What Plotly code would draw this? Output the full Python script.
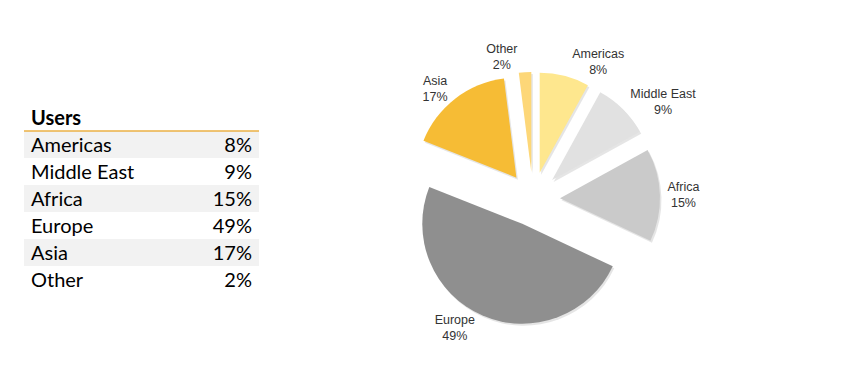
import plotly.graph_objects as go

regions = ["Americas", "Middle East", "Africa", "Europe", "Asia", "Other"]
users_pct = [8, 9, 15, 49, 17, 2]
table_title = "Users"
slice_colors = ["#FEE78E", "#E1E1E1", "#CACACA", "#8F8F8F", "#F6BC35", "#FDD778"]
slice_pull = [0.27, 0.27, 0.27, 0.27, 0.27, 0.27]
row_fill = ["#F2F2F2", "#FFFFFF", "#F2F2F2", "#FFFFFF", "#F2F2F2", "#FFFFFF"]

W, H = 867, 377

fig = go.Figure()

# ---- table drawn on a hidden cartesian grid (one row per category) ----
names = [f"<b>{table_title}</b>"] + regions
vals = [""] + [f"{v}%" for v in users_pct]
fills = ["#FFFFFF"] + row_fill
rows = list(range(len(names)))
TW = 235

fig.add_trace(go.Bar(
    y=rows, x=[TW] * len(rows), base=0, orientation="h", width=1,
    marker=dict(color=fills, line=dict(width=0)),
    hoverinfo="skip", showlegend=False,
))
fig.add_trace(go.Scatter(
    y=rows, x=[7] * len(rows), mode="text", text=names, yaxis="y2",
    textposition="middle right",
    textfont=dict(family="Lato", size=20, color="black"),
    hoverinfo="skip", showlegend=False,
))
fig.add_trace(go.Scatter(
    y=rows, x=[TW - 7] * len(rows), mode="text", text=vals, yaxis="y2",
    textposition="middle left",
    textfont=dict(family="Lato", size=20, color="black"),
    hoverinfo="skip", showlegend=False,
))
fig.add_shape(type="line", xref="x", yref="y", x0=0, x1=TW, y0=0.5, y1=0.5,
              line=dict(color="#EBB144", width=1.5))

# ---- exploded pie (with a soft offset shadow behind it) ----
cx, cy, half = 533, 199, 127
fig.add_trace(go.Pie(
    labels=regions,
    values=users_pct,
    sort=False,
    direction="clockwise",
    rotation=0,
    pull=slice_pull,
    marker=dict(colors=["rgba(0,0,0,0.10)"] * len(regions), line=dict(width=0)),
    textinfo="none",
    domain=dict(x=[(cx - half + 1.5) / W, (cx + half + 1.5) / W],
                y=[1 - (cy + half + 2) / H, 1 - (cy - half + 2) / H]),
    showlegend=False,
    hoverinfo="skip",
    automargin=False,
))
fig.add_trace(go.Pie(
    labels=regions,
    values=users_pct,
    sort=False,
    direction="clockwise",
    rotation=0,
    pull=slice_pull,
    marker=dict(colors=slice_colors, line=dict(width=0)),
    textposition="outside",
    texttemplate="%{label}<br>%{value}%",
    textfont=dict(family="Liberation Sans", size=12.5, color="#333333"),
    domain=dict(x=[(cx - half) / W, (cx + half) / W],
                y=[1 - (cy + half) / H, 1 - (cy - half) / H]),
    showlegend=False,
    hoverinfo="label+percent",
    automargin=False,
))

fig.update_layout(
    width=W, height=H,
    margin=dict(l=0, r=0, t=0, b=0, autoexpand=False),
    paper_bgcolor="white",
    plot_bgcolor="rgba(0,0,0,0)",
    bargap=0,
    xaxis=dict(domain=[24 / W, 259 / W], range=[0, TW], visible=False, fixedrange=True),
    yaxis=dict(domain=[1 - 293 / H, 1 - 104 / H], range=[len(rows) - 0.5, -0.5],
               visible=False, fixedrange=True),
    yaxis2=dict(domain=[1 - 295.5 / H, 1 - 106.5 / H], range=[len(rows) - 0.5, -0.5],
                visible=False, fixedrange=True, anchor="x"),
)

fig.write_html("out.html", config=dict(displayModeBar=False),
               post_script="document.body.style.margin='0';")
